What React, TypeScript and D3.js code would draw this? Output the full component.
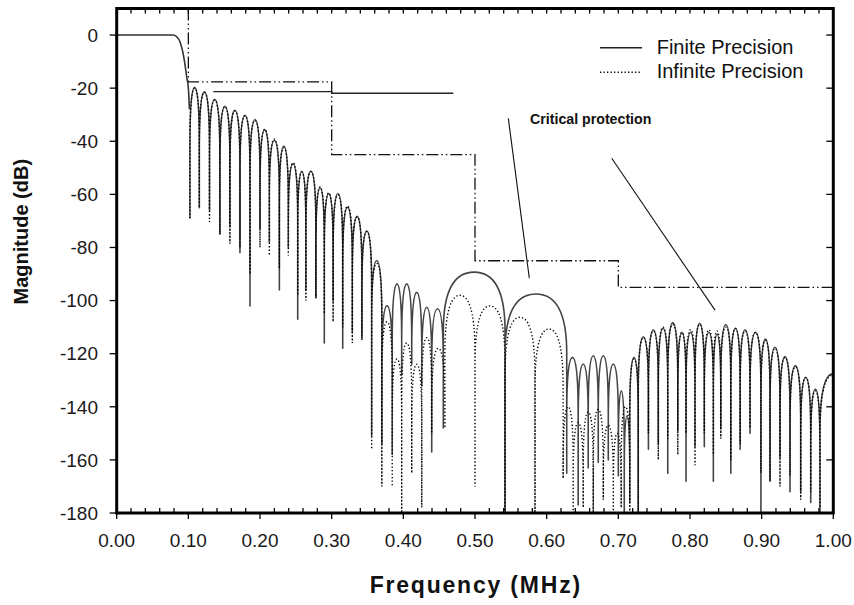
import React from "react";
import * as d3 from "d3";

// ---------- axis ticks ----------
const xTickValues = [0, 0.1, 0.2, 0.3, 0.4, 0.5, 0.6, 0.7, 0.8, 0.9, 1.0];
const xTickLabels = ["0.00", "0.10", "0.20", "0.30", "0.40", "0.50", "0.60", "0.70", "0.80", "0.90", "1.00"];
const yTickValues = [0, -20, -40, -60, -80, -100, -120, -140, -160, -180];
const yTickLabels = ["0", "-20", "-40", "-60", "-80", "-100", "-120", "-140", "-160", "-180"];

// ---------- passband (shared) ----------
const passbandF = [0, 0.079, 0.0835, 0.0883, 0.0915, 0.0944, 0.0977, 0.1, 0.1015];
const passbandDb = [0, 0, -0.6, -2.5, -5.5, -9.5, -15.8, -20, -28];

// ---------- Finite precision: nulls and lobe peaks ----------
const finiteNullF = [
  0.1022, 0.1153, 0.1295, 0.144, 0.158, 0.172, 0.186, 0.2, 0.213, 0.227,
  0.2395, 0.2526, 0.264, 0.278, 0.2897, 0.302, 0.3154, 0.3288, 0.3422, 0.3558,
  0.37, 0.3845, 0.3977, 0.4117, 0.4257, 0.4396, 0.4558, 0.5419, 0.628, 0.644,
  0.658, 0.672, 0.686, 0.7, 0.7083, 0.716, 0.7278, 0.742, 0.7558, 0.769,
  0.783, 0.7945, 0.807, 0.82, 0.8326, 0.843, 0.857, 0.87, 0.8838, 0.899,
  0.9117, 0.9256, 0.9396, 0.9545, 0.9685, 0.9814, 1.019,
];
const finiteNullDb = [
  -69, -65, -66, -75, -72, -82, -102, -73, -78, -96,
  -80, -107, -96, -99, -116, -100, -118, -112, -114, -151,
  -154, -158, -128, -124, -132, -157, -148, -180, -165, -177,
  -163, -161, -160, -166, -180, -176, -180, -156, -154, -165,
  -149, -168, -155, -155, -168, -148, -165, -156, -150, -180,
  -168, -159, -172, -172, -176, -180, -160,
];
const finitePeakDb = [
  -19.7, -21.4, -24.2, -26.8, -28.3, -30.2, -31.8, -35.6, -39.6, -41.8,
  -48.4, -51.3, -51.2, -57.5, -59.7, -59.7, -64.8, -68.3, -73.8, -84.9,
  -101.9, -93.7, -93.7, -96.9, -102.5, -103.1, -89.3, -97.5, -121.4, -123.9,
  -120.8, -120.8, -123.9, -134, -143.4, -121.4, -113.6, -111, -110.4, -108.3,
  -111.9, -111.9, -108.6, -111.9, -112.6, -109, -110.4, -111, -111.9, -114.5,
  -117.6, -121.1, -124.5, -128.9, -133.3, -127.5,
];

// ---------- Infinite precision: nulls and lobe peaks ----------
const infiniteNullF = [
  0.1022, 0.1153, 0.1295, 0.144, 0.158, 0.172, 0.186, 0.2, 0.213, 0.227,
  0.2395, 0.2526, 0.264, 0.278, 0.2897, 0.302, 0.3154, 0.3288, 0.3422, 0.3558,
  0.37, 0.3845, 0.3977, 0.4117, 0.4257, 0.4396, 0.458, 0.5, 0.5419, 0.5837,
  0.623, 0.637, 0.651, 0.665, 0.679, 0.693, 0.704, 0.716, 0.7278, 0.742,
  0.7558, 0.769, 0.783, 0.7945, 0.807, 0.82, 0.8326, 0.843, 0.857, 0.87,
  0.8838, 0.899, 0.9117, 0.9256, 0.9396, 0.9545, 0.9685, 0.9814, 1.019,
];
const infiniteNullDb = [
  -69, -65, -70.4, -75, -78.6, -80, -90, -80, -83, -88,
  -83, -98, -100, -99, -105, -108, -110, -116, -115, -156,
  -170, -170, -180, -165, -178, -150, -148, -170, -180, -180,
  -167, -180, -178, -180, -175, -180, -178, -180, -180, -150,
  -160, -152, -158, -150, -162, -150, -158, -152, -160, -154,
  -148, -165, -168, -170, -166, -175, -172, -178, -160,
];
const infinitePeakDb = [
  -20, -21.6, -24.5, -27, -28.6, -30.4, -32.2, -35.5, -39.2, -42.5,
  -48.2, -51.6, -51.5, -57.2, -59.5, -60.2, -64.5, -68.5, -74, -86,
  -108, -122, -116, -124, -114, -118, -98, -102, -106.3, -110.7,
  -140, -146, -142, -141, -147, -150, -140, -122, -114, -111.5,
  -110, -109, -112, -111, -109, -111, -111.5, -110, -110.5, -111.5,
  -112, -115, -118, -121.5, -125, -129, -134, -128,
];

// ---------- protection mask (dash-dot-dot) ----------
const maskF = [0.1, 0.1, 0.3, 0.3, 0.5, 0.5, 0.7, 0.7, 1.0];
const maskDb = [10, -17.6, -17.6, -45, -45, -85, -85, -95, -95];

// ---------- solid specification line ----------
const specF = [0.1348, 0.3, 0.3, 0.4697];
const specDb = [-21.3, -21.3, -21.9, -21.9];

// ---------- "Critical protection" pointer lines ----------
const pointerF = [[0.5465, 0.5758], [0.6908, 0.8349]];
const pointerDb = [[-31.4, -91.6], [-46.4, -103.6]];

const legendLabels = ["Finite Precision", "Infinite Precision"];
const annotationText = "Critical protection";

const W = 854;
const H = 605;
const L = 116.7, R = 833.3, T = 8.5, B = 513;

const x = d3.scaleLinear().domain([0, 1]).range([L, R]);
const y = d3.scaleLinear().domain([-180, 10]).range([B, T]);

function lobePath(nullF: number[], nullDb: number[], peakDb: number[]) {
  const p = d3.path();
  const kv = 0.8;
  const kh = 0.5;
  p.moveTo(x(nullF[0]), y(nullDb[0]));
  for (let i = 0; i < peakDb.length; i++) {
    const xa = x(nullF[i]);
    const xb = x(nullF[i + 1]);
    const xm = (xa + xb) / 2;
    const yp = y(peakDb[i]);
    const shoulder = peakDb[i] - 22;
    const ya = y(Math.max(shoulder, nullDb[i]));
    const yb = y(Math.max(shoulder, nullDb[i + 1]));
    p.lineTo(xa, ya);
    p.bezierCurveTo(xa, ya - kv * (ya - yp), xm - kh * (xm - xa), yp, xm, yp);
    p.bezierCurveTo(xm + kh * (xb - xm), yp, xb, yb - kv * (yb - yp), xb, yb);
    p.lineTo(xb, y(nullDb[i + 1]));
  }
  return p.toString();
}

const passLine = d3
  .line<number>()
  .x((_, i) => x(passbandF[i]))
  .y((d) => y(d))
  .curve(d3.curveMonotoneX);

const polyLine = (fs: number[], ds: number[]) =>
  d3
    .line<number>()
    .x((_, i) => x(fs[i]))
    .y((d) => y(d))(ds) as string;

const FONT = "'Liberation Sans', Arial, Helvetica, sans-serif";

export default function App() {
  const minorX = d3.range(0, 51).map((i) => i * 0.02);
  const passD = passLine(passbandDb) as string;
  const finiteD = lobePath(finiteNullF, finiteNullDb, finitePeakDb);
  const infiniteD = lobePath(infiniteNullF, infiniteNullDb, infinitePeakDb);

  return (
    <svg width={W} height={H} style={{ display: "block", position: "absolute", left: 0, top: 0 }}>
      <rect x={0} y={0} width={W} height={H} fill="#fff" />
      <defs>
        <clipPath id="plotClip">
          <rect x={L} y={T} width={R - L} height={B - T} />
        </clipPath>
      </defs>

      <g clipPath="url(#plotClip)" fill="none">
        {/* mask */}
        <path
          d={polyLine(maskF, maskDb)}
          stroke="#111"
          strokeWidth={1.3}
          strokeDasharray="12 3 1.5 3 1.5 3"
        />
        <path d={polyLine(specF, specDb)} stroke="#222" strokeWidth={1.4} />
        {/* finite precision */}
        <path d={passD} stroke="#333" strokeWidth={1.6} />
        <path d={finiteD} stroke="#444" strokeWidth={1.6} strokeLinejoin="round" />
        {/* infinite precision */}
        <path d={infiniteD} stroke="#000" strokeWidth={1.4} strokeDasharray="1.3 2.2" />
        {/* pointer lines */}
        {pointerF.map((fs, i) => (
          <line
            key={i}
            x1={x(fs[0])}
            y1={y(pointerDb[i][0])}
            x2={x(fs[1])}
            y2={y(pointerDb[i][1])}
            stroke="#111"
            strokeWidth={1.1}
          />
        ))}
      </g>

      {/* annotation */}
      <text x={530} y={124} fontFamily={FONT} fontWeight="bold" fontSize={14.2} fill="#111">
        {annotationText}
      </text>

      {/* legend */}
      <line x1={600} x2={642} y1={47.7} y2={47.7} stroke="#222" strokeWidth={1.5} />
      <line x1={600} x2={642} y1={72.3} y2={72.3} stroke="#000" strokeWidth={1.4} strokeDasharray="1.3 2.2" />
      <text x={656.7} y={53.5} fontFamily={FONT} fontSize={20} fill="#111">
        {legendLabels[0]}
      </text>
      <text x={656.7} y={78.3} fontFamily={FONT} fontSize={20} fill="#111">
        {legendLabels[1]}
      </text>

      {/* ticks */}
      <g stroke="#000" strokeWidth={1.3}>
        {minorX.map((v, i) => {
          const major = i % 5 === 0;
          return (
            <g key={i}>
              {major ? (
                <line x1={x(v)} x2={x(v)} y1={B} y2={B + 6} />
              ) : (
                <line x1={x(v)} x2={x(v)} y1={B} y2={B - 5} />
              )}
              <line x1={x(v)} x2={x(v)} y1={T} y2={T + 5} />
            </g>
          );
        })}
        {yTickValues.map((v, i) => (
          <g key={i}>
            <line x1={L - 7} x2={L} y1={y(v)} y2={y(v)} />
            <line x1={R} x2={R - 7} y1={y(v)} y2={y(v)} />
          </g>
        ))}
      </g>

      {/* frame */}
      <rect x={L} y={T} width={R - L} height={B - T} fill="none" stroke="#000" strokeWidth={3} />

      {/* tick labels */}
      <g fontFamily={FONT} fontSize={19} fill="#1a1a1a">
        {xTickValues.map((v, i) => (
          <text key={i} x={x(v)} y={547} textAnchor="middle">
            {xTickLabels[i]}
          </text>
        ))}
        {yTickValues.map((v, i) => (
          <text key={i} x={98} y={y(v) + 6.8} textAnchor="end">
            {yTickLabels[i]}
          </text>
        ))}
      </g>

      {/* axis titles */}
      <text
        x={475.8}
        y={593.3}
        textAnchor="middle"
        fontFamily={FONT}
        fontWeight="bold"
        fontSize={23}
        letterSpacing={1.8}
        fill="#111"
      >
        Frequency (MHz)
      </text>
      <text
        transform="translate(28,231.7) rotate(-90)"
        textAnchor="middle"
        fontFamily={FONT}
        fontWeight="bold"
        fontSize={20}
        fill="#111"
      >
        Magnitude (dB)
      </text>
    </svg>
  );
}
